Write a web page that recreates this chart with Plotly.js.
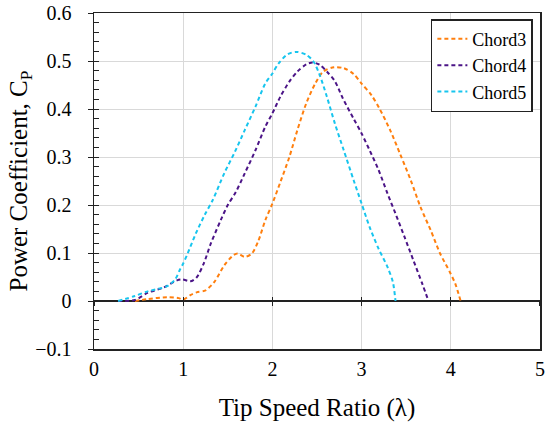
<!DOCTYPE html>
<html><head><meta charset="utf-8">
<script src="https://cdn.plot.ly/plotly-3.0.1.min.js"></script>
<style>html,body{margin:0;padding:0;background:#fff}#chart{width:550px;height:427px}</style>
</head><body><div id="chart"></div>
<script>
// ---- data ----
const seriesNames = ['Chord3', 'Chord4', 'Chord5'];

const chord3X = [0.46, 0.60, 0.82, 0.95, 1.00, 1.08, 1.15, 1.25, 1.35, 1.46, 1.56, 1.61, 1.69, 1.77, 1.84, 1.92, 2.00, 2.09, 2.19, 2.28, 2.38, 2.48, 2.57, 2.69, 2.80, 2.91, 3.00, 3.11, 3.20, 3.32, 3.43, 3.55, 3.66, 3.78, 3.88, 3.99, 4.05, 4.11];
const chord3Y = [0.000, 0.004, 0.008, 0.006, 0.003, 0.012, 0.018, 0.022, 0.040, 0.074, 0.095, 0.099, 0.092, 0.099, 0.124, 0.168, 0.203, 0.248, 0.300, 0.356, 0.412, 0.453, 0.478, 0.487, 0.485, 0.473, 0.453, 0.429, 0.401, 0.356, 0.307, 0.252, 0.196, 0.145, 0.099, 0.060, 0.036, 0.000];

const chord4X = [0.27, 0.46, 0.60, 0.78, 0.93, 0.99, 1.08, 1.15, 1.23, 1.31, 1.42, 1.50, 1.59, 1.69, 1.81, 1.92, 2.00, 2.09, 2.19, 2.28, 2.38, 2.45, 2.53, 2.61, 2.70, 2.79, 2.91, 3.00, 3.09, 3.19, 3.29, 3.38, 3.48, 3.58, 3.68, 3.75];
const chord4Y = [0.000, 0.002, 0.017, 0.028, 0.043, 0.045, 0.041, 0.049, 0.078, 0.120, 0.168, 0.200, 0.227, 0.266, 0.314, 0.363, 0.391, 0.426, 0.457, 0.478, 0.493, 0.497, 0.492, 0.478, 0.458, 0.422, 0.380, 0.349, 0.314, 0.273, 0.224, 0.182, 0.134, 0.085, 0.036, 0.000];

const chord5X = [0.27, 0.45, 0.60, 0.82, 0.91, 0.96, 1.00, 1.05, 1.14, 1.24, 1.33, 1.46, 1.58, 1.69, 1.81, 1.92, 2.00, 2.07, 2.17, 2.27, 2.38, 2.46, 2.53, 2.61, 2.70, 2.80, 2.91, 3.00, 3.09, 3.19, 3.29, 3.35, 3.38];
const chord5Y = [0.000, 0.010, 0.020, 0.031, 0.045, 0.064, 0.078, 0.099, 0.140, 0.179, 0.210, 0.266, 0.311, 0.356, 0.405, 0.453, 0.474, 0.495, 0.514, 0.519, 0.513, 0.499, 0.471, 0.426, 0.370, 0.314, 0.252, 0.203, 0.154, 0.109, 0.071, 0.040, 0.000];

const xTitle = 'Tip Speed Ratio (λ)';
const yTitle = 'Power Coefficient, C<sub>P</sub>';

// ---- styles ----
const colors = ['#FF7F0E', '#4B1487', '#17C5EE'];
const FONT = 'Liberation Serif';
const AX = '#222222';
const GRID = '#D9D9D9';

const xs = [chord3X, chord4X, chord5X];
const ys = [chord3Y, chord4Y, chord5Y];

const traces = seriesNames.map((n, i) => ({
  type: 'scatter', mode: 'lines', name: n,
  x: xs[i], y: ys[i],
  line: {color: colors[i], width: 2, dash: '4px,3px', shape: 'spline', smoothing: 0.8}
}));

// empty helper traces so the tick-only overlay axes are drawn
const helper = (xa, ya) => ({type: 'scatter', mode: 'lines', x: [], y: [], xaxis: xa, yaxis: ya, showlegend: false, hoverinfo: 'skip'});
traces.push(helper('x2', 'y'), helper('x3', 'y'), helper('x', 'y2'));

const layout = {
  width: 550, height: 427,
  margin: {l: 94, r: 10, t: 13, b: 78},
  paper_bgcolor: '#fff', plot_bgcolor: '#fff',
  font: {family: FONT, color: '#000'},
  showlegend: true,
  legend: {
    x: 0.984, xanchor: 'right', y: 0.982, yanchor: 'top',
    bgcolor: '#fff', bordercolor: AX, borderwidth: 1.5,
    font: {family: FONT, size: 18, color: '#000'},
    itemwidth: 30
  },
  xaxis: {
    range: [0, 5], dtick: 1, tick0: 0,
    showgrid: true, gridcolor: GRID, gridwidth: 1,
    showline: true, linecolor: AX, linewidth: 1.5, mirror: true,
    ticks: '', zeroline: false,
    tickfont: {family: FONT, size: 20, color: '#000'},
    ticklabelstandoff: 1,
    title: {text: xTitle, font: {family: FONT, size: 25, color: '#000'}, standoff: 20}
  },
  yaxis: {
    range: [-0.1, 0.6], dtick: 0.1, tick0: 0,
    showgrid: true, gridcolor: GRID, gridwidth: 1,
    showline: true, linecolor: AX, linewidth: 1.5, mirror: true,
    ticks: 'outside', ticklen: 5, tickcolor: AX, tickwidth: 1,
    zeroline: true, zerolinecolor: AX, zerolinewidth: 1.5,
    tickfont: {family: FONT, size: 20, color: '#000'},
    ticklabelstandoff: 12,
    title: {text: yTitle, font: {family: FONT, size: 25, color: '#000'}, standoff: 0}
  },
  yaxis2: {
    overlaying: 'y', anchor: 'x', side: 'left',
    range: [-0.1, 0.6], dtick: 0.1, tick0: 0,
    ticks: 'inside', ticklen: 5, tickcolor: AX, tickwidth: 1,
    minor: {dtick: 0.02, ticks: 'inside', ticklen: 5, tickcolor: AX, tickwidth: 1, showgrid: false},
    showticklabels: false, showgrid: false, zeroline: false, showline: false
  },
  xaxis2: {
    overlaying: 'x', anchor: 'free', position: 0.1 / 0.7,
    range: [0, 5], dtick: 1, tick0: 0,
    ticks: 'outside', ticklen: 4, tickcolor: AX, tickwidth: 1.2,
    showticklabels: false, showgrid: false, zeroline: false, showline: false
  },
  xaxis3: {
    overlaying: 'x', anchor: 'free', position: 0.1 / 0.7,
    range: [0, 5], dtick: 1, tick0: 0,
    ticks: 'inside', ticklen: 4, tickcolor: AX, tickwidth: 1.2,
    showticklabels: false, showgrid: false, zeroline: false, showline: false
  }
};

Plotly.newPlot('chart', traces, layout, {staticPlot: true, displayModeBar: false});
</script>
</body></html>
